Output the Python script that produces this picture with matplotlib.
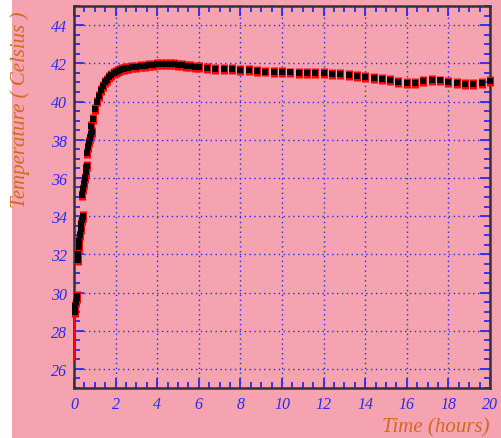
import numpy as np
import matplotlib.pyplot as plt
from matplotlib.patches import Rectangle
from matplotlib.ticker import MultipleLocator

# warm-up readings, drawn as a bare red trace
warm_t = [0.0, 0.0]
warm_T = [26.5, 29.0]

# logged samples, split where the logger restarted
seg_t = [
    [0.04, 0.07, 0.10, 0.13, 0.15],
    [0.17, 0.20, 0.23, 0.26, 0.29, 0.32, 0.35, 0.38, 0.41, 0.44],
    [0.40, 0.44, 0.48, 0.52, 0.56, 0.60, 0.64],
    [0.62, 0.67, 0.72, 0.77, 0.82, 0.87],
    [0.82, 0.9, 1.0, 1.1, 1.2, 1.3, 1.4, 1.5, 1.6, 1.7, 1.8, 1.9, 2.0, 2.1,
     2.2, 2.3, 2.4, 2.5, 2.6, 2.8, 3.0, 3.2, 3.4, 3.6, 3.8, 4.0, 4.2, 4.4,
     4.6, 4.8, 5.0, 5.2, 5.4, 5.6, 5.8, 6.0, 6.4, 6.8, 7.2, 7.6, 8.0, 8.4,
     8.8, 9.2, 9.6, 10.0, 10.4, 10.8, 11.2, 11.6, 12.0, 12.4, 12.8, 13.2,
     13.6, 14.0, 14.4, 14.8, 15.2, 15.6, 16.0, 16.4, 16.8, 17.2, 17.6, 18.0,
     18.4, 18.8, 19.2, 19.6, 20.0],
]
seg_T = [
    [29.0, 29.3, 29.5, 29.7, 29.8],
    [31.7, 32.0, 32.4, 32.7, 33.0, 33.3, 33.6, 33.8, 33.95, 34.0],
    [35.1, 35.4, 35.7, 36.0, 36.3, 36.5, 36.6],
    [37.3, 37.6, 37.9, 38.1, 38.3, 38.4],
    [38.7, 39.1, 39.6, 40.0, 40.3, 40.6, 40.8, 41.0, 41.15, 41.3, 41.4, 41.5,
     41.55, 41.6, 41.65, 41.7, 41.72, 41.75, 41.77, 41.8, 41.83, 41.85, 41.87,
     41.9, 41.92, 41.94, 41.96, 41.97, 41.96, 41.94, 41.92, 41.9, 41.88,
     41.85, 41.82, 41.8, 41.76, 41.72, 41.7, 41.68, 41.66, 41.63, 41.6,
     41.57, 41.55, 41.53, 41.52, 41.5, 41.5, 41.5, 41.48, 41.45, 41.42,
     41.38, 41.33, 41.3, 41.25, 41.2, 41.15, 41.02, 40.95, 40.95, 41.05,
     41.12, 41.1, 41.02, 40.95, 40.93, 40.92, 40.95, 41.05],
]
err_T = 0.26

pink = '#f5a3b0'
blue = '#2a2af0'
orange = '#d2691e'
serif = ['Liberation Serif', 'DejaVu Serif']

fig = plt.figure(figsize=(5.02, 4.39), dpi=100, facecolor=pink)
fig.patches.append(Rectangle((0, 0), 12 / 502, 1, transform=fig.transFigure,
                             facecolor='white', edgecolor='none', zorder=0))
ax = fig.add_axes([74 / 502, 50 / 439, 416 / 502, 382 / 439])
ax.set_facecolor(pink)

ax.plot(warm_t, warm_T, color='red', lw=2, zorder=3, clip_on=False)
for t, T in zip(seg_t, seg_T):
    ax.errorbar(t, T, yerr=err_T, fmt='s', color='black', ms=3.7, mew=0,
                ecolor='red', elinewidth=5, capsize=0, zorder=3,
                clip_on=False)

ax.set_xlim(0, 20)
ax.set_ylim(25, 45)
ax.xaxis.set_major_locator(MultipleLocator(2))
ax.xaxis.set_minor_locator(MultipleLocator(0.5))
ax.yaxis.set_major_locator(MultipleLocator(2))
ax.yaxis.set_minor_locator(MultipleLocator(0.5))
ax.set_yticks(np.arange(26, 45, 2))

ax.grid(True, which='major', color=blue, ls=(0, (1, 2.5)), lw=1)
ax.tick_params(which='both', direction='in', top=True, right=True,
               color=blue, width=1.3, labelcolor=blue)
ax.tick_params(which='major', length=7)
ax.tick_params(which='minor', length=4)
ax.tick_params(axis='x', pad=6)
ax.tick_params(axis='y', pad=5)
for lab in ax.get_xticklabels() + ax.get_yticklabels():
    lab.set_fontfamily(serif)
    lab.set_fontstyle('italic')
    lab.set_fontsize(11.5)
for sp in ax.spines.values():
    sp.set_color('#333333')
    sp.set_linewidth(1.8)

fig.text(490 / 502, 1 - 428 / 439, 'Time (hours)', color=orange,
         family=serif, style='italic', fontsize=15, ha='right', va='center')
fig.text(20 / 502, 1 - 12 / 439, 'Temperature ( Celsius )', color=orange,
         family=serif, style='italic', fontsize=15, rotation=90,
         ha='center', va='top')

fig.savefig('out.png', dpi=100, facecolor=pink)
